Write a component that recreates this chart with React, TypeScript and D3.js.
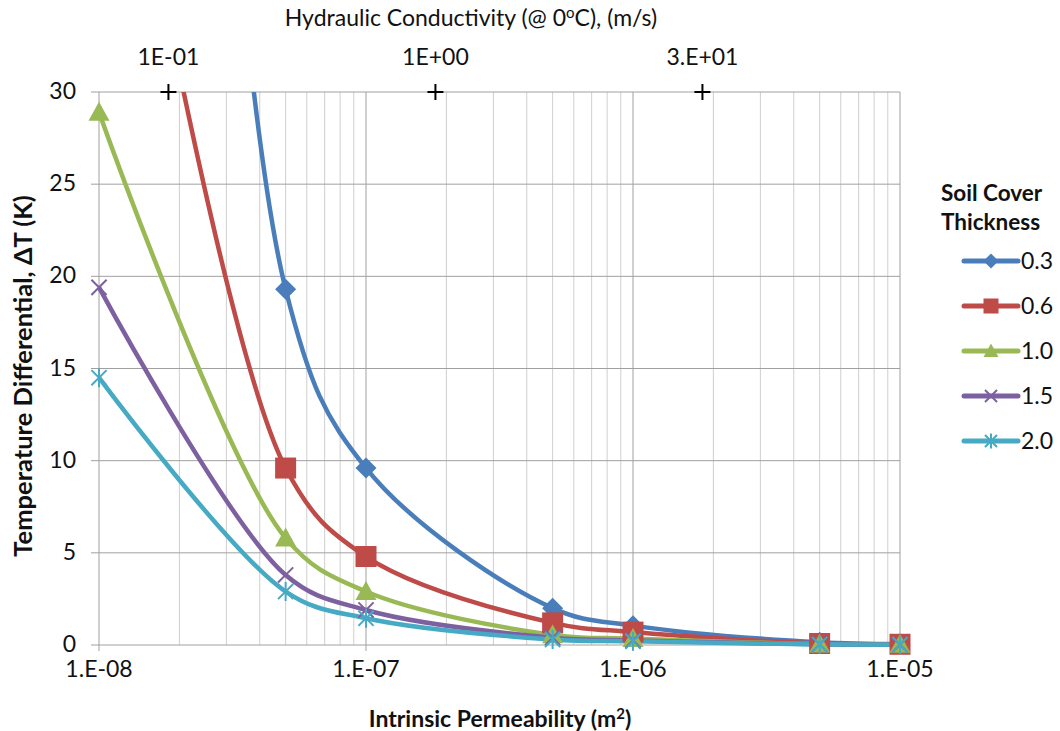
import React from "react";
import * as d3 from "d3";

// ---- data ----
const permeability = [1e-8, 5e-8, 1e-7, 5e-7, 1e-6, 5e-6, 1e-5];
const thickness03 = [165, 19.3, 9.6, 2.0, 1.05, 0.15, 0.05];
const thickness06 = [54, 9.6, 4.8, 1.2, 0.7, 0.08, 0.04];
const thickness10 = [28.9, 5.8, 2.9, 0.55, 0.35, 0.05, 0.03];
const thickness15 = [19.4, 3.8, 1.9, 0.4, 0.25, 0.04, 0.02];
const thickness20 = [14.5, 2.9, 1.45, 0.3, 0.2, 0.03, 0.02];
const seriesNames = ["0.3", "0.6", "1.0", "1.5", "2.0"];
const seriesColors = ["#4A7EBB", "#BE4B48", "#98B954", "#7D60A0", "#46AAC5"];
const seriesMarkers = ["diamond", "square", "triangle", "x", "star"];
const yTicks = [0, 5, 10, 15, 20, 25, 30];
const xTicks = [1e-8, 1e-7, 1e-6, 1e-5];
const xTickLabels = ["1.E-08", "1.E-07", "1.E-06", "1.E-05"];
// secondary (hydraulic conductivity) markers, placed at permeability equivalents
const topTickPerm = [1.82e-8, 1.82e-7, 1.82e-6];
const topTickLabels = ["1E-01", "1E+00", "3.E+01"];
const topTickValue = 30;

const allSeries = [thickness03, thickness06, thickness10, thickness15, thickness20];

const W = 1060;
const H = 731;
const L = 99, R = 900, T = 92, B = 645;
const FONT = "Lato, 'Open Sans', sans-serif";
const TXT = "#111";

function Marker({ type, x, y, color, s }: { type: string; x: number; y: number; color: string; s: number }) {
  const h = s / 2;
  if (type === "diamond")
    return <path d={`M${x},${y - h}L${x + h},${y}L${x},${y + h}L${x - h},${y}Z`} fill={color} />;
  if (type === "square")
    return <rect x={x - h} y={y - h} width={s} height={s} fill={color} />;
  if (type === "triangle")
    return <path d={`M${x},${y - h}L${x + h},${y + h * 0.8}L${x - h},${y + h * 0.8}Z`} fill={color} />;
  const k = h * 0.8;
  if (type === "x")
    return (
      <path d={`M${x - k},${y - k}L${x + k},${y + k}M${x - k},${y + k}L${x + k},${y - k}`} stroke={color} strokeWidth={2} />
    );
  return (
    <path
      d={`M${x - k},${y - k}L${x + k},${y + k}M${x - k},${y + k}L${x + k},${y - k}M${x},${y - h}L${x},${y + h}`}
      stroke={color}
      strokeWidth={2}
    />
  );
}

export default function App() {
  const x = d3.scaleLog().domain([1e-8, 1e-5]).range([L, R]);
  const y = d3.scaleLinear().domain([0, 30]).range([B, T]);
  const minor: number[] = [];
  for (let e = -8; e < -5; e++) for (let m = 2; m <= 9; m++) minor.push(m * Math.pow(10, e));

  const line = d3
    .line<number>()
    .x((_, i) => x(permeability[i]))
    .y((d) => y(d))
    .curve(d3.curveCatmullRom.alpha(0.5));

  return (
    <svg width={W} height={H} style={{ display: "block", position: "absolute", left: 0, top: 0 }} fontFamily={FONT}>
      <rect width={W} height={H} fill="#fff" />
      <defs>
        <clipPath id="plotclip">
          <rect x={0} y={T} width={W} height={H - T} />
        </clipPath>
      </defs>
      {/* minor vertical grid */}
      {minor.map((v, i) => (
        <line key={"mn" + i} x1={x(v)} x2={x(v)} y1={T} y2={B} stroke="#cfcfcf" strokeWidth={1} />
      ))}
      {xTicks.map((v, i) => (
        <line key={"mj" + i} x1={x(v)} x2={x(v)} y1={T} y2={B + 6} stroke="#a0a0a0" strokeWidth={1} />
      ))}
      {yTicks.map((v, i) => (
        <line key={"hy" + i} x1={L - 8} x2={R} y1={y(v)} y2={y(v)} stroke="#a0a0a0" strokeWidth={1} />
      ))}
      {/* y tick labels */}
      {yTicks.map((v, i) => (
        <text key={"yl" + i} x={76} y={y(v) + 7} textAnchor="end" fontSize={23} fill={TXT}>
          {v}
        </text>
      ))}
      {/* x tick labels */}
      {xTicks.map((v, i) => (
        <text key={"xl" + i} x={x(v)} y={677} textAnchor="middle" fontSize={23} fill={TXT}>
          {xTickLabels[i]}
        </text>
      ))}
      {/* top secondary axis labels and markers */}
      {topTickPerm.map((v, i) => (
        <g key={"tp" + i}>
          <text x={x(v)} y={65} textAnchor="middle" fontSize={23} fill={TXT}>
            {topTickLabels[i]}
          </text>
          <path
            d={`M${x(v) - 8},${y(topTickValue)}H${x(v) + 8}M${x(v)},${y(topTickValue) - 8}V${y(topTickValue) + 8}`}
            stroke="#000"
            strokeWidth={2}
          />
        </g>
      ))}
      {/* series */}
      <g clipPath="url(#plotclip)">
        {allSeries.map((s, si) => (
          <path key={"ln" + si} d={line(s) || ""} fill="none" stroke={seriesColors[si]} strokeWidth={4.5} strokeLinejoin="round" />
        ))}
      </g>
      {allSeries.map((s, si) =>
        s.map((v, i) =>
          v <= 30 ? (
            <Marker
              key={"mk" + si + "-" + i}
              type={seriesMarkers[si]}
              x={x(permeability[i])}
              y={y(v)}
              color={seriesColors[si]}
              s={si >= 3 ? 19 : 21}
            />
          ) : null
        )
      )}
      {/* titles */}
      <text x={471} y={26} textAnchor="middle" fontSize={23} fill={TXT}>
        Hydraulic Conductivity (@ 0<tspan dy={-8} fontSize={15}>o</tspan>
        <tspan dy={8}>C), (m/s)</tspan>
      </text>
      <text x={500} y={727} textAnchor="middle" fontSize={23} fontWeight="bold" fill={TXT}>
        Intrinsic Permeability (m<tspan dy={-8} fontSize={15}>2</tspan>
        <tspan dy={8}>)</tspan>
      </text>
      <text transform={`translate(32,376) rotate(-90)`} textAnchor="middle" fontSize={25.5} fontWeight="bold" fill={TXT}>
        Temperature Differential, ΔT (K)
      </text>
      {/* legend */}
      <text x={941} y={201} fontSize={22.5} fontWeight="bold" fill={TXT}>Soil Cover</text>
      <text x={941} y={230} fontSize={22.5} fontWeight="bold" fill={TXT}>Thickness</text>
      {seriesNames.map((n, i) => {
        const ly = 261 + i * 45;
        return (
          <g key={"lg" + i}>
            <line x1={964} x2={1018} y1={ly} y2={ly} stroke={seriesColors[i]} strokeWidth={5} strokeLinecap="round" />
            <Marker type={seriesMarkers[i]} x={991} y={ly} color={seriesColors[i]} s={15} />
            <text x={1021} y={ly + 8} fontSize={23} fill={TXT}>{n}</text>
          </g>
        );
      })}
    </svg>
  );
}
